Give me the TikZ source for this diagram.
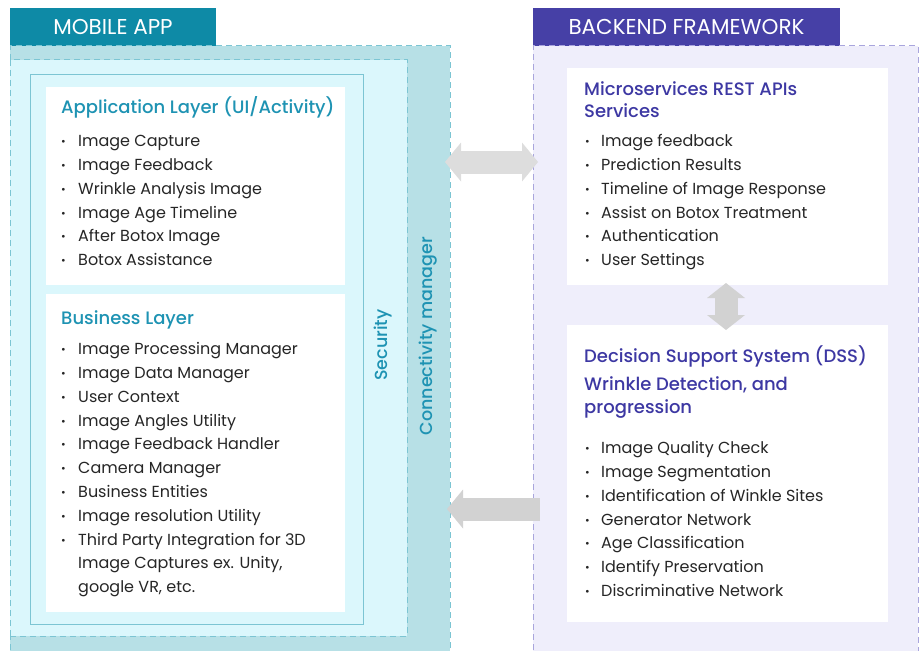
\documentclass[tikz,border=0pt]{standalone}
\usepackage{fontspec}
\setmainfont{Poppins}[BoldFont={Poppins Medium}]
\usetikzlibrary{positioning,arrows.meta}
\definecolor{appteal}{HTML}{0E8AA6}
\definecolor{appbg}{HTML}{B7E0E6}
\definecolor{appinner}{HTML}{DBF7FC}
\definecolor{appdash}{HTML}{7CC5D3}
\definecolor{apptitle}{HTML}{1E93B3}
\definecolor{beblue}{HTML}{4640A6}
\definecolor{bebg}{HTML}{EFEEFB}
\definecolor{bedash}{HTML}{A9A5DD}
\definecolor{betitle}{HTML}{3D38A3}
\definecolor{arrowgray}{HTML}{DDDDDD}
\newcommand{\bodyfont}{\fontsize{16}{23.8}\selectfont}
\newcommand{\headfont}{\fontsize{18}{22}\selectfont\bfseries}
\newcommand{\itm}{\makebox[17pt][l]{\raisebox{1pt}{\scalebox{0.7}{\textbullet}}}}
\newcommand{\bitm}{\makebox[16pt][l]{\raisebox{1pt}{\scalebox{0.7}{\textbullet}}}}

\begin{document}
\begin{tikzpicture}[x=1pt,y=-1pt,
	box/.style={anchor=north west,inner sep=0,outer sep=0},
	tab/.style={box,text=white,font=\fontsize{21.5}{24}\selectfont},
	appdashed/.style={draw=appdash,dash pattern=on 6pt off 4pt,line width=1pt},
	bedashed/.style={draw=bedash,dash pattern=on 6pt off 4pt,line width=1pt},
	txt/.style={anchor=north west,inner sep=0,align=left},
	blockarrow/.style={draw=arrowgray,line width=23pt}]
\useasboundingbox (0,0) rectangle (920,650);
% mobile app side
\node[tab,fill=appteal,minimum width=206pt,minimum height=38pt] (apptab) at (10,8) {MOBILE APP};
\node[box,fill=appbg,appdashed,minimum width=440pt,minimum height=612pt] (appouter) at (10,46) {};
\node[box,fill=appinner,appdashed,minimum width=397pt,minimum height=576pt] (appinner) at (10,60) {};
\node[box,draw=appdash,line width=1pt,minimum width=333pt,minimum height=549pt] (appframe) at (30,75) {};
\node[box,fill=white,minimum width=299pt,minimum height=198pt] (applayer) at (46,87) {};
\node[box,fill=white,minimum width=299pt,minimum height=318pt] (bizlayer) at (46,294) {};
\node[txt,text=apptitle,font=\headfont] (applayerT) at (61,96.6) {\strut Application Layer (UI/Activity)};
\node[txt,font=\bodyfont,text=black!85] (applist) at (61,129.8) {\strut\itm Image Capture\\
	\itm Image Feedback\\
	\itm Wrinkle Analysis Image\\
	\itm Image Age Timeline\\
	\itm After Botox Image\\
	\itm Botox Assistance};
\node[txt,text=apptitle,font=\headfont] (bizlayerT) at (61,308.6) {\strut Business Layer};
\node[txt,font=\bodyfont,text=black!85] (bizlist) at (61,337.8) {\strut\itm Image Processing Manager\\
	\itm Image Data Manager\\
	\itm User Context\\
	\itm Image Angles Utility\\
	\itm Image Feedback Handler\\
	\itm Camera Manager\\
	\itm Business Entities\\
	\itm Image resolution Utility\\
	\itm Third Party Integration for 3D\\
	\hspace*{17pt}Image Captures ex. Unity,\\
	\hspace*{17pt}google VR, etc.};
\node[rotate=90,text=apptitle,font=\fontsize{17.5}{22}\selectfont\bfseries] (security) at (383,345) {Security};
\node[rotate=90,text=apptitle,font=\fontsize{17.5}{22}\selectfont\bfseries] (connmgr) at (428,336) {Connectivity manager};
% backend side
\node[tab,fill=beblue,minimum width=307pt,minimum height=38pt] (betab) at (533,8) {BACKEND FRAMEWORK};
\node[box,fill=bebg,bedashed,minimum width=385pt,minimum height=612pt] (beouter) at (533,46) {};
\node[box,fill=white,minimum width=321pt,minimum height=217pt] (svcbox) at (567,68) {};
\node[box,fill=white,minimum width=321pt,minimum height=297pt] (dssbox) at (567,325) {};
\node[txt,text=betitle,font=\headfont] (svcT) at (584,79.6) {\strut Microservices REST APIs\\Services};
\node[txt,font=\bodyfont,text=black!85] (svclist) at (585,129.8) {\strut\bitm Image feedback\\
	\bitm Prediction Results\\
	\bitm Timeline of Image Response\\
	\bitm Assist on Botox Treatment\\
	\bitm Authentication\\
	\bitm User Settings};
\node[txt,text=betitle,font=\fontsize{18}{23}\selectfont\bfseries] (dssT) at (584,345.9) {\strut Decision Support System (DSS)\\[5pt]
	Wrinkle Detection, and\\progression};
\node[txt,font=\bodyfont,text=black!85] (dsslist) at (585,436.8) {\strut\bitm Image Quality Check\\
	\bitm Image Segmentation\\
	\bitm Identification of Winkle Sites\\
	\bitm Generator Network\\
	\bitm Age Classification\\
	\bitm Identify Preservation\\
	\bitm Discriminative Network};
% block arrows
\coordinate (syncA) at (445,162);
\coordinate (syncB) at (538,162);
\coordinate (backA) at (540,509);
\coordinate (backB) at (447,509);
\coordinate (dssA) at (726,283);
\coordinate (dssB) at (726,330);
\draw[blockarrow,{Triangle[width=39pt,length=16pt,line width=0pt]}-{Triangle[width=39pt,length=16pt,line width=0pt]}] (syncA) -- (syncB);
\draw[blockarrow,draw=arrowgray!95!black,-{Triangle[width=39pt,length=16pt,line width=0pt]}] (backA) -- (backB);
\draw[blockarrow,draw=arrowgray!95!black,{Triangle[width=38pt,length=15pt,line width=0pt]}-{Triangle[width=38pt,length=15pt,line width=0pt]}] (dssA) -- (dssB);
\end{tikzpicture}
\end{document}
